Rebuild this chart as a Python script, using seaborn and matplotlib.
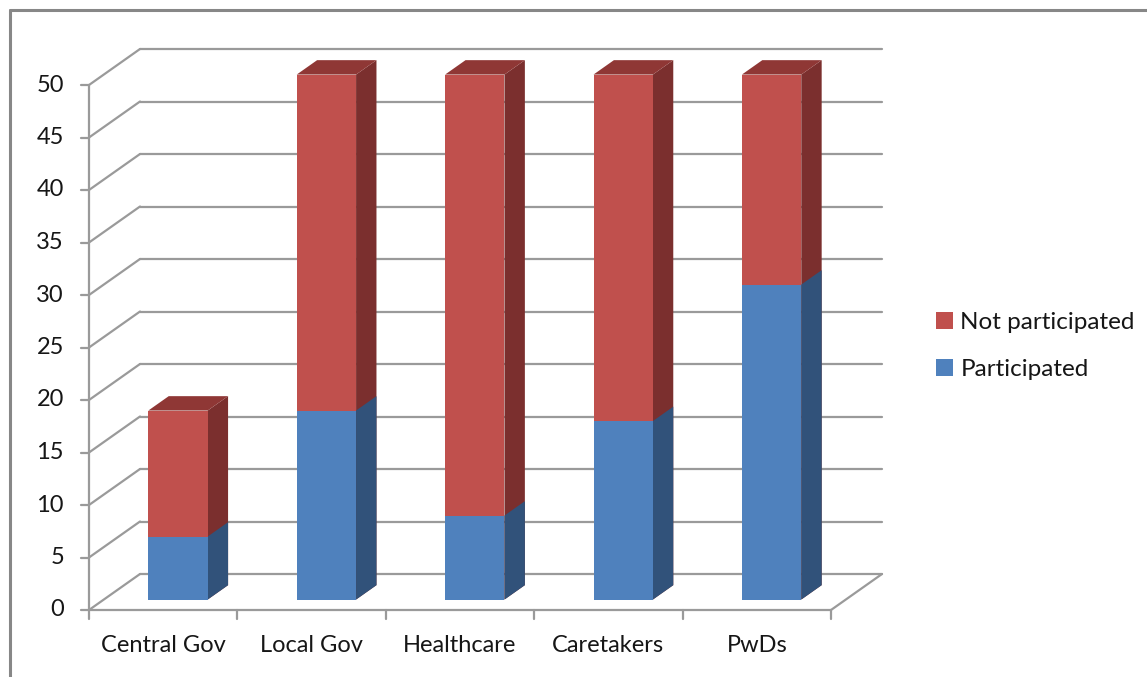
import numpy as np
import pandas as pd
import matplotlib
matplotlib.use("Agg")
import matplotlib.pyplot as plt
import matplotlib.transforms as mtransforms
from matplotlib.patches import Polygon, Patch
from matplotlib.lines import Line2D
import seaborn as sns

# ---- data ----
categories = ["Central Gov", "Local Gov", "Healthcare", "Caretakers", "PwDs"]
participated = [6, 18, 8, 17, 30]
not_participated = [12, 32, 42, 33, 20]
y_ticks = list(range(0, 55, 5))

totals = [p + n for p, n in zip(participated, not_participated)]
df = pd.DataFrame({"category": categories,
                   "participated": participated,
                   "total": totals})

# ---- styling ----
sns.set_theme(style="white")
plt.rcParams["font.family"] = ["Lato", "DejaVu Sans"]
FS = 17
TXT = "#161616"

W, H, DPI = 1147, 677, 100
fig = plt.figure(figsize=(W / DPI, H / DPI), dpi=DPI)
fig.patch.set_facecolor("white")

# plot area: front plane of the 3-D box
left_px, right_px = 89, 831
zero_px, top_px = 610, 85
ax = fig.add_axes([left_px / W, (H - zero_px) / H,
                   (right_px - left_px) / W, (zero_px - top_px) / H])
ax.set_xlim(-0.5, 4.5)
ax.set_ylim(0, 50)
ax.axis("off")

GRID = "#9a9a9a"
BLUE, BLUE_SIDE, BLUE_TOP = "#4f81bd", "#31527a", "#3f6797"
RED, RED_SIDE, RED_TOP = "#c0504d", "#7b2f2e", "#8f3735"

# oblique depth direction (pixels, y up) for the full box depth
DEPTH_X, DEPTH_Y = 51.0, 36.0
bar_front, bar_back = 0.29, 0.69


def depth_tr(frac):
    return ax.transData + mtransforms.ScaledTranslation(
        DEPTH_X * frac / DPI, DEPTH_Y * frac / DPI, fig.dpi_scale_trans)


back = depth_tr(1.0)
lw = 1.6

# back wall gridlines and the diagonals joining them to the value axis
for v in y_ticks:
    ax.add_line(Line2D([-0.5, 4.5], [v, v], transform=back, color=GRID,
                       lw=lw, clip_on=False, zorder=1))
    p0 = ax.transData.transform((-0.5, v))
    p1 = back.transform((-0.5, v))
    ax.add_line(Line2D([p0[0], p1[0]], [p0[1], p1[1]], transform=None,
                       color=GRID, lw=lw, clip_on=False, zorder=1))

# floor: front edge and right diagonal
ax.add_line(Line2D([-0.5, 4.5], [0, 0], color=GRID, lw=lw, clip_on=False, zorder=1))
q0 = ax.transData.transform((4.5, 0))
q1 = back.transform((4.5, 0))
ax.add_line(Line2D([q0[0], q1[0]], [q0[1], q1[1]], transform=None,
                   color=GRID, lw=lw, clip_on=False, zorder=1))

# value axis line, ticks and labels
ax.add_line(Line2D([-0.5, -0.5], [0, 50], color=GRID, lw=lw, clip_on=False, zorder=1))
for v in y_ticks:
    a = ax.transData.transform((-0.5, v))
    ax.add_line(Line2D([a[0] - 8, a[0]], [a[1], a[1]], transform=None,
                       color=GRID, lw=lw, clip_on=False, zorder=1))
    ax.text(a[0] - 25, a[1], str(v), transform=None, ha="right",
            va="center", fontsize=FS, color=TXT)

# category axis ticks and labels
for i in range(len(categories) + 1):
    a = ax.transData.transform((i - 0.5, 0))
    ax.add_line(Line2D([a[0], a[0]], [a[1], a[1] - 9], transform=None,
                       color=GRID, lw=lw, clip_on=False, zorder=1))
for i, c in enumerate(categories):
    a = ax.transData.transform((i, 0))
    ax.text(a[0], a[1] - 36, c, transform=None, ha="center", va="center",
            fontsize=FS, color=TXT)

# ---- stacked bars (front faces) ----
n_before = len(ax.patches)
sns.barplot(data=df, x="category", y="total", color=RED, width=0.4,
            saturation=1, ax=ax, order=categories, linewidth=0, zorder=3)
red_bars = ax.patches[n_before:]
n_before = len(ax.patches)
sns.barplot(data=df, x="category", y="participated", color=BLUE, width=0.4,
            saturation=1, ax=ax, order=categories, linewidth=0, zorder=3)
blue_bars = ax.patches[n_before:]
ax.set_xlim(-0.5, 4.5)
ax.set_ylim(0, 50)
ax.axis("off")

front = depth_tr(bar_front)
bd = bar_back - bar_front
sx, sy = DEPTH_X * bd, DEPTH_Y * bd


def faces(rect, side_c, top_c, with_top):
    x0, y0 = rect.get_x(), rect.get_y()
    x1, y1 = x0 + rect.get_width(), y0 + rect.get_height()
    br = front.transform((x1, y0))
    tr = front.transform((x1, y1))
    tl = front.transform((x0, y1))
    side = Polygon([br, tr, (tr[0] + sx, tr[1] + sy), (br[0] + sx, br[1] + sy)],
                   closed=True, transform=None, facecolor=side_c,
                   edgecolor="none", zorder=2, clip_on=False)
    ax.add_patch(side)
    if with_top:
        top = Polygon([tl, tr, (tr[0] + sx, tr[1] + sy), (tl[0] + sx, tl[1] + sy)],
                      closed=True, transform=None, facecolor=top_c,
                      edgecolor="none", zorder=2, clip_on=False)
        ax.add_patch(top)


for r in red_bars:
    r.set_transform(front)
    r.set_clip_on(False)
    r.set_edgecolor("none")
    r.set_zorder(4)
    faces(r, RED_SIDE, RED_TOP, True)
for r in blue_bars:
    r.set_transform(front)
    r.set_clip_on(False)
    r.set_edgecolor("none")
    r.set_zorder(5)
    faces(r, BLUE_SIDE, BLUE_TOP, False)

# ---- legend ----
handles = [Patch(facecolor=RED, edgecolor="none", label="Not participated"),
           Patch(facecolor=BLUE, edgecolor="none", label="Participated")]
fig.legend(handles=handles, loc="center left",
           bbox_to_anchor=(936 / W, 1 - 346 / H), frameon=False,
           fontsize=FS + 0.5, handlelength=0.7, handleheight=0.7,
           handletextpad=0.3, labelspacing=1.05, borderpad=0,
           borderaxespad=0, labelcolor=TXT)

# ---- outer chart frame ----
fig.add_artist(Line2D([10 / W, 10 / W], [0, 1 - 10 / H], transform=fig.transFigure,
                      color="#878787", lw=2.2))
fig.add_artist(Line2D([10 / W, 1], [1 - 10 / H, 1 - 10 / H], transform=fig.transFigure,
                      color="#878787", lw=2.2))

fig.savefig("out.png", dpi=DPI)
